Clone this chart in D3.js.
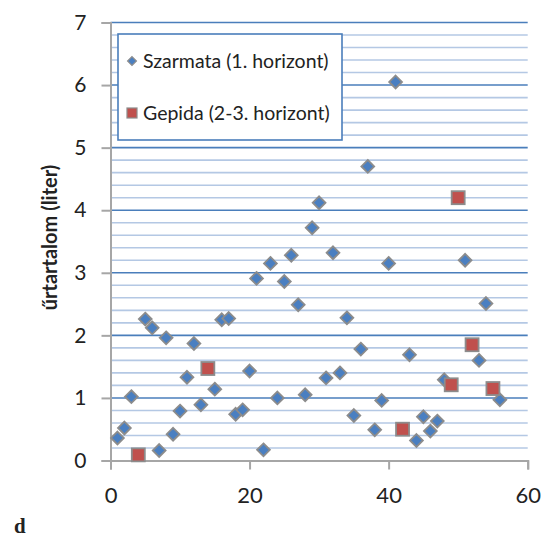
<!DOCTYPE html>
<html><head><meta charset="utf-8">
<script src="https://cdn.jsdelivr.net/npm/d3@7"></script>
<style>body{margin:0;background:#fff}svg{display:block}</style>
</head><body>
<script>
const szarmataX = [1,2,3,5,6,7,8,9,10,11,12,13,15,16,17,18,19,20,21,22,23,24,25,26,27,28,29,30,31,32,33,34,35,36,37,38,39,40,41,43,44,45,46,47,48,51,53,54,56];
const szarmataY = [0.36,0.52,1.02,2.26,2.12,0.16,1.96,0.42,0.79,1.33,1.87,0.89,1.14,2.25,2.27,0.74,0.81,1.43,2.91,0.17,3.15,1.00,2.86,3.28,2.49,1.05,3.72,4.12,1.32,3.32,1.40,2.28,0.72,1.78,4.70,0.49,0.96,3.15,6.05,1.69,0.32,0.70,0.47,0.63,1.29,3.20,1.60,2.51,0.97];
const gepidaX = [4,14,42,49,50,52,55];
const gepidaY = [0.09,1.47,0.50,1.21,4.20,1.85,1.15];
const xTicks = [0,20,40,60];
const yTicks = [0,1,2,3,4,5,6,7];
const seriesNames = ["Szarmata (1. horizont)","Gepida (2-3. horizont)"];
const yTitle = "űrtartalom (liter)";
const panelLabel = "d";

const W=551,H=538;
const svg=d3.select("body").append("svg").attr("width",W).attr("height",H);
const x=d3.scaleLinear().domain([0,60]).range([110.5,527.7]);
const y=d3.scaleLinear().domain([0,7]).range([460.5,22.5]);
const font="Lato, 'Open Sans', sans-serif";

// minor gridlines
const minor=d3.range(0,7.001,0.2).filter(v=>Math.abs(v-Math.round(v))>1e-6);
svg.append("g").selectAll("line").data(minor).join("line")
  .attr("x1",x(0)).attr("x2",x(60)).attr("y1",d=>y(d)).attr("y2",d=>y(d))
  .attr("stroke","#b4c8e4").attr("stroke-width",1.6);
// major gridlines
svg.append("g").selectAll("line").data(yTicks.filter(d=>d>0)).join("line")
  .attr("x1",x(0)).attr("x2",x(60)).attr("y1",d=>y(d)).attr("y2",d=>y(d))
  .attr("stroke","#4a7ebb").attr("stroke-width",1.6);

// axes
const axisColor="#a6a6a6";
const yAxis=svg.append("g").attr("transform",`translate(${x(0)},0)`)
  .call(d3.axisLeft(y).tickValues(yTicks).tickSize(9).tickPadding(15).tickFormat(d3.format("d")));
const xAxis=svg.append("g").attr("transform",`translate(0,${y(0)})`)
  .call(d3.axisBottom(x).tickValues(xTicks).tickSize(9).tickPadding(18).tickFormat(d3.format("d")));
[xAxis,yAxis].forEach(a=>{
  a.select(".domain").attr("stroke",axisColor).attr("stroke-width",2);
  a.selectAll(".tick line").attr("stroke",axisColor).attr("stroke-width",2);
  a.selectAll("text").attr("fill","#222").style("font-family",font);
});
yAxis.selectAll("text").style("font-size","21px");
xAxis.selectAll("text").style("font-size","22px");

// markers
const diamond=d3.symbol().type(d3.symbolDiamond2).size(105);
const pts=szarmataX.map((v,i)=>({x:v,y:szarmataY[i]}));
svg.append("g").selectAll("path").data(pts).join("path")
  .attr("d",diamond).attr("transform",d=>`translate(${x(d.x)},${y(d.y)})`)
  .attr("fill","#4a7fc1").attr("stroke","#8c8c8c").attr("stroke-width",1.8);
const gpts=gepidaX.map((v,i)=>({x:v,y:gepidaY[i]}));
svg.append("g").selectAll("rect").data(gpts).join("rect")
  .attr("x",d=>x(d.x)-6.5).attr("y",d=>y(d.y)-6.5).attr("width",13).attr("height",13)
  .attr("fill","#c0504d").attr("stroke","#8c8c8c").attr("stroke-width",1.8);

// legend
const lg=svg.append("g");
lg.append("rect").attr("x",118).attr("y",34).attr("width",224).attr("height",106)
  .attr("fill","#fff").attr("stroke","#4a7ebb").attr("stroke-width",1.6);
lg.append("path").attr("d",d3.symbol().type(d3.symbolDiamond2).size(50))
  .attr("transform","translate(132,61)").attr("fill","#4a7fc1").attr("stroke","#8c8c8c").attr("stroke-width",1.2);
lg.append("rect").attr("x",127).attr("y",108).attr("width",10).attr("height",10)
  .attr("fill","#c0504d").attr("stroke","#8c8c8c").attr("stroke-width",1.2);
lg.selectAll("text").data(seriesNames).join("text")
  .attr("x",143).attr("y",(d,i)=>i===0?68:120)
  .style("font-family",font).style("font-size","19.5px").attr("fill","#222").text(d=>d);

// y title
svg.append("text").attr("transform","translate(57,237.5) rotate(-90)")
  .attr("text-anchor","middle").style("font-family",font).style("font-weight","bold")
  .style("font-size","20px").attr("fill","#222").text(yTitle);

svg.append("text").attr("x",14).attr("y",533).style("font-family","'Liberation Serif', serif")
  .style("font-weight","bold").style("font-size","21px").attr("fill","#222").text(panelLabel);
</script>
</body></html>
